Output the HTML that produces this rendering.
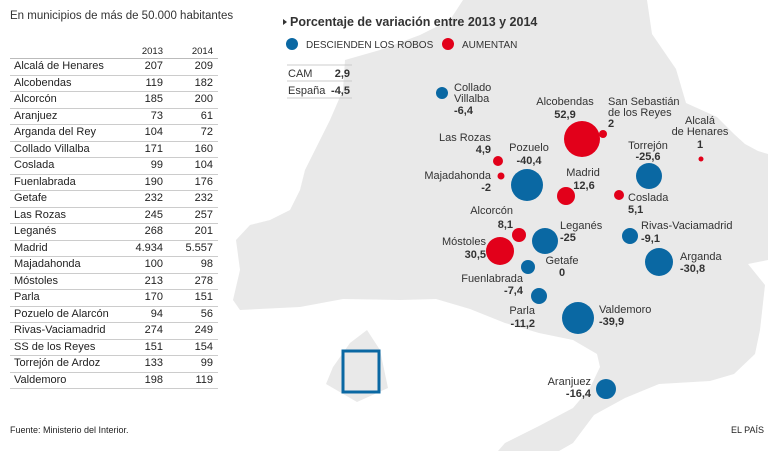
<!DOCTYPE html>
<html><head><meta charset="utf-8"><style>
body{margin:0;width:768px;height:451px;background:#fff;overflow:hidden;font-family:"Liberation Sans",sans-serif;position:relative}
.t{position:absolute;left:10px;top:10px;font-size:11.5px;color:#333}
table{position:absolute;left:10px;top:45px;border-collapse:collapse;font-size:11px;color:#222;width:208px}
td{height:15.5px;padding:0;border-bottom:1px solid #ccc;line-height:15.5px}
td.n{padding-left:4px}
td.v{text-align:right;width:50px}
td.v2{text-align:right;width:50px;padding-right:5px}
tr.h td{font-size:9.5px;height:13px;line-height:13px;border-bottom:1px solid #bbb}
.f{position:absolute;left:10px;top:425px;font-size:9px;color:#222}
.e{position:absolute;left:731px;top:425px;font-size:9px;color:#222}
svg{position:absolute;left:0;top:0}
</style></head><body>
<svg width="768" height="451" font-family="Liberation Sans, sans-serif">
<path fill="#e9e9e9" d="M463,0 L647,0 L652,34 L676,69 L686,103 L717,117 L734,134 L745,144 L758,151 L768,154 L768,260 L748,264 L765,285 L760,330 L755,354 L734,374 L710,381 L659,384 L625,398 L594,415 L573,443 L559,451 L498,451 L505,443 L539,426 L573,408 L590,388 L600,367 L597,354 L573,340 L539,333 L505,323 L470,309 L436,299 L400,300 L343,299 L300,307 L240,310 L233,300 L240,270 L236,240 L250,225 L270,220 L290,210 L300,190 L305,170 L315,150 L330,120 L343,90 L345,60 L380,50 L420,35 L450,20 Z"/>
<path fill="#e9e9e9" d="M350,343 L367,330 L380,350 L388,388 L357,402 L326,384 L333,367 Z"/>
<rect x="343" y="351" width="36" height="41" fill="none" stroke="#0a68a3" stroke-width="3"/>
<path d="M283,19 L287,22 L283,25 Z" fill="#333"/>
<text x="290" y="26" font-size="12.5" font-weight="bold" fill="#333">Porcentaje de variación entre 2013 y 2014</text>
<circle cx="292" cy="44" r="6" fill="#0a68a3"/><text x="306" y="48" font-size="10" fill="#333">DESCIENDEN LOS ROBOS</text>
<circle cx="448" cy="44" r="6" fill="#e2001a"/><text x="462" y="48" font-size="10" fill="#333">AUMENTAN</text>
<g stroke="#ccc"><line x1="287" y1="65" x2="352" y2="65"/><line x1="287" y1="81" x2="352" y2="81"/><line x1="287" y1="98" x2="352" y2="98"/></g>
<text x="288" y="77" font-size="11" fill="#333">CAM</text><text x="350" y="77" font-size="11" font-weight="bold" text-anchor="end" fill="#333">2,9</text>
<text x="288" y="94" font-size="11" fill="#333">España</text><text x="350" y="94" font-size="11" font-weight="bold" text-anchor="end" fill="#333">-4,5</text>
<g fill="#0a68a3">
<circle cx="442" cy="93" r="6"/><circle cx="527" cy="185" r="16"/><circle cx="649" cy="176" r="13"/>
<circle cx="545" cy="241" r="13"/><circle cx="630" cy="236" r="8"/><circle cx="659" cy="262" r="14"/>
<circle cx="528" cy="267" r="7"/><circle cx="539" cy="296" r="8"/><circle cx="578" cy="318" r="16"/><circle cx="606" cy="389" r="10"/>
</g>
<g fill="#e2001a">
<circle cx="582" cy="139" r="18"/><circle cx="603" cy="134" r="4"/><circle cx="701" cy="159" r="2.5"/>
<circle cx="498" cy="161" r="5"/><circle cx="501" cy="176" r="3.5"/><circle cx="566" cy="196" r="9"/>
<circle cx="619" cy="195" r="5"/><circle cx="519" cy="235" r="7"/><circle cx="500" cy="251" r="14"/>
</g>
<g font-size="11" fill="#333">
<text x="454" y="91">Collado</text><text x="454" y="102">Villalba</text>
<text x="565" y="105" text-anchor="middle">Alcobendas</text>
<text x="608" y="105">San Sebastián</text><text x="608" y="116">de los Reyes</text>
<text x="700" y="124" text-anchor="middle">Alcalá</text><text x="700" y="135" text-anchor="middle">de Henares</text>
<text x="491" y="141" text-anchor="end">Las Rozas</text>
<text x="529" y="151" text-anchor="middle">Pozuelo</text>
<text x="648" y="149" text-anchor="middle">Torrejón</text>
<text x="491" y="179" text-anchor="end">Majadahonda</text>
<text x="583" y="176" text-anchor="middle">Madrid</text>
<text x="628" y="201">Coslada</text>
<text x="513" y="214" text-anchor="end">Alcorcón</text>
<text x="560" y="229">Leganés</text>
<text x="641" y="229">Rivas-Vaciamadrid</text>
<text x="486" y="245" text-anchor="end">Móstoles</text>
<text x="680" y="260">Arganda</text>
<text x="562" y="264" text-anchor="middle">Getafe</text>
<text x="523" y="282" text-anchor="end">Fuenlabrada</text>
<text x="535" y="314" text-anchor="end">Parla</text>
<text x="599" y="313">Valdemoro</text>
<text x="591" y="385" text-anchor="end">Aranjuez</text>
</g>
<g font-size="11" font-weight="bold" fill="#333">
<text x="454" y="114">-6,4</text>
<text x="565" y="118" text-anchor="middle">52,9</text>
<text x="608" y="127">2</text>
<text x="700" y="148" text-anchor="middle">1</text>
<text x="491" y="153" text-anchor="end">4,9</text>
<text x="529" y="164" text-anchor="middle">-40,4</text>
<text x="648" y="160" text-anchor="middle">-25,6</text>
<text x="491" y="191" text-anchor="end">-2</text>
<text x="584" y="189" text-anchor="middle">12,6</text>
<text x="628" y="213">5,1</text>
<text x="513" y="228" text-anchor="end">8,1</text>
<text x="560" y="241">-25</text>
<text x="641" y="242">-9,1</text>
<text x="486" y="258" text-anchor="end">30,5</text>
<text x="680" y="272">-30,8</text>
<text x="562" y="276" text-anchor="middle">0</text>
<text x="523" y="294" text-anchor="end">-7,4</text>
<text x="535" y="327" text-anchor="end">-11,2</text>
<text x="599" y="325">-39,9</text>
<text x="591" y="397" text-anchor="end">-16,4</text>
</g>
</svg>
<div class="t">En municipios de más de 50.000 habitantes</div>
<table>
<tr class="h"><td></td><td class="v">2013</td><td class="v2">2014</td></tr>
<tr><td class="n">Alcalá de Henares</td><td class="v">207</td><td class="v2">209</td></tr>
<tr><td class="n">Alcobendas</td><td class="v">119</td><td class="v2">182</td></tr>
<tr><td class="n">Alcorcón</td><td class="v">185</td><td class="v2">200</td></tr>
<tr><td class="n">Aranjuez</td><td class="v">73</td><td class="v2">61</td></tr>
<tr><td class="n">Arganda del Rey</td><td class="v">104</td><td class="v2">72</td></tr>
<tr><td class="n">Collado Villalba</td><td class="v">171</td><td class="v2">160</td></tr>
<tr><td class="n">Coslada</td><td class="v">99</td><td class="v2">104</td></tr>
<tr><td class="n">Fuenlabrada</td><td class="v">190</td><td class="v2">176</td></tr>
<tr><td class="n">Getafe</td><td class="v">232</td><td class="v2">232</td></tr>
<tr><td class="n">Las Rozas</td><td class="v">245</td><td class="v2">257</td></tr>
<tr><td class="n">Leganés</td><td class="v">268</td><td class="v2">201</td></tr>
<tr><td class="n">Madrid</td><td class="v">4.934</td><td class="v2">5.557</td></tr>
<tr><td class="n">Majadahonda</td><td class="v">100</td><td class="v2">98</td></tr>
<tr><td class="n">Móstoles</td><td class="v">213</td><td class="v2">278</td></tr>
<tr><td class="n">Parla</td><td class="v">170</td><td class="v2">151</td></tr>
<tr><td class="n">Pozuelo de Alarcón</td><td class="v">94</td><td class="v2">56</td></tr>
<tr><td class="n">Rivas-Vaciamadrid</td><td class="v">274</td><td class="v2">249</td></tr>
<tr><td class="n">SS de los Reyes</td><td class="v">151</td><td class="v2">154</td></tr>
<tr><td class="n">Torrejón de Ardoz</td><td class="v">133</td><td class="v2">99</td></tr>
<tr><td class="n">Valdemoro</td><td class="v">198</td><td class="v2">119</td></tr>
</table>
<div class="f">Fuente: Ministerio del Interior.</div>
<div class="e">EL PAÍS</div>
</body></html>
